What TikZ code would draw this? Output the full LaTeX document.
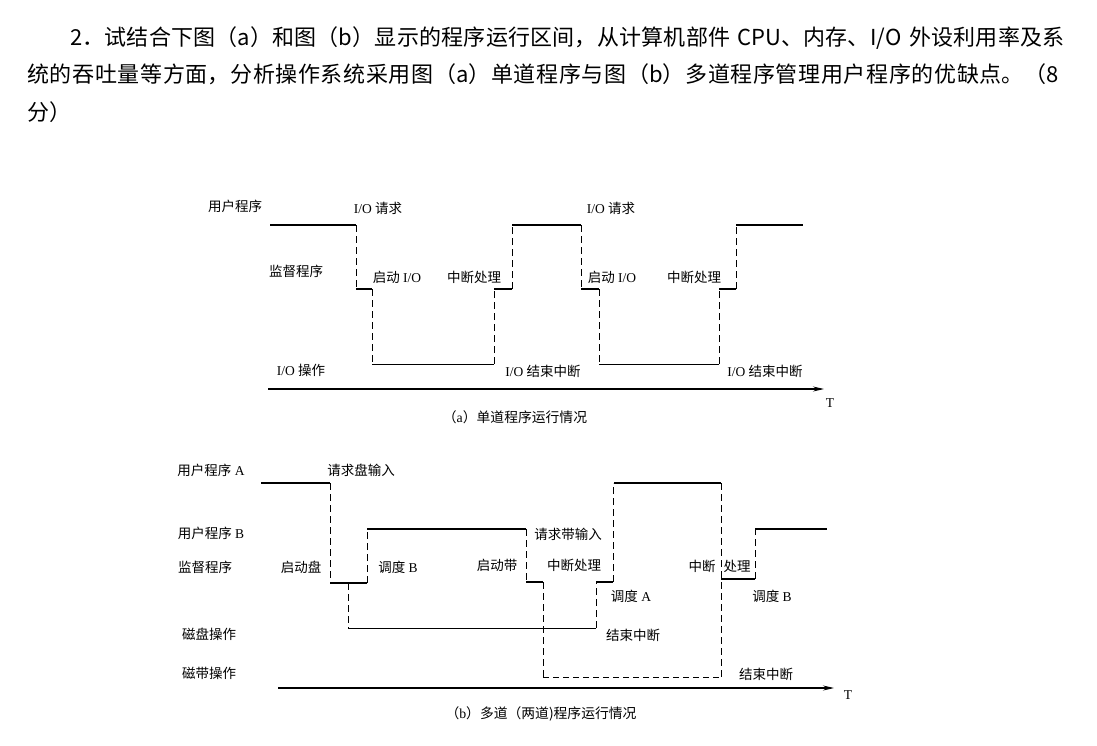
\documentclass[tikz,border=0pt]{standalone}
\usepackage{fontspec}
\setmainfont{Liberation Serif}
\newfontfamily\cjk{Noto Sans CJK SC}
\newcommand{\zh}[1]{{\cjk #1}}
\usetikzlibrary{arrows.meta}

\begin{document}
\begin{tikzpicture}[x=1pt,y=1pt,yscale=-1,xscale=1,
    lbl/.style={inner sep=0.75pt,font=\fontsize{13.5}{16}\selectfont},
    capt/.style={inner sep=0.75pt,font=\fontsize{13.8}{16}\selectfont},
    usr/.style={line width=1.8pt},
    usra/.style={line width=2.5pt},
    sup/.style={line width=1.3pt},
    io/.style={line width=0.9pt},
    dsh/.style={line width=1pt,dash pattern=on 7pt off 4pt},
    axis/.style={line width=1.1pt,-{Stealth[length=11pt,width=5pt]}}]
    \useasboundingbox (0,0) rectangle (1097,745);
    \path[fill=white] (0,0) rectangle (1097,745);

    % Question Text
    \draw (27,26) node [anchor=north west,inner sep=0pt,text width=1041pt,
        font=\cjk\fontsize{22}{37.5}\selectfont] (quest)
        {\noindent\XeTeXlinebreaklocale "zh"\XeTeXlinebreakskip=0pt plus 3pt%
        \hspace*{43pt}2．试结合下图（a）和图（b）显示的程序运行区间，从计算机部件 CPU、内存、I/O 外设利用率及系\linebreak
        统的吞吐量等方面，分析操作系统采用图（a）单道程序与图（b）多道程序管理用户程序的优缺点。（8\linebreak
        分）};

    %%% (a) single program
    %Straight Lines: user program
    \draw [usr] (270,225) -- (356,225) ;
    \draw [usr] (512,225) -- (581,225) ;
    \draw [usr] (736,225) -- (803,225) ;
    %Straight Lines: monitor
    \draw [sup] (356,289) -- (372,289) ;
    \draw [sup] (494,289) -- (512,289) ;
    \draw [sup] (581,289) -- (599,289) ;
    \draw [sup] (719,289) -- (736,289) ;
    %Straight Lines: I/O
    \draw [io] (372,364) -- (494,364) ;
    \draw [io] (599,364) -- (719,364) ;
    %Dashed Lines
    \draw [dsh] (356,225) -- (356,289) ;
    \draw [dsh] (372,289) -- (372,364) ;
    \draw [dsh] (494,364) -- (494,289) ;
    \draw [dsh] (512,289) -- (512,225) ;
    \draw [dsh] (581,225) -- (581,289) ;
    \draw [dsh] (599,289) -- (599,364) ;
    \draw [dsh] (719,364) -- (719,289) ;
    \draw [dsh] (736,289) -- (736,225) ;
    %Arrow: time axis
    \draw [axis] (268,389) -- (824,389) ;

    % Text Node
    \draw (235,206) node [lbl] (ua) {\zh{用户程序}};
    \draw (378,208) node [lbl] (reqa) {I/O \zh{请求}};
    \draw (611,208) node [lbl] (reqb) {I/O \zh{请求}};
    \draw (296,271) node [lbl] (supa) {\zh{监督程序}};
    \draw (397,277) node [lbl] (sta) {\zh{启动} I/O};
    \draw (474,277) node [lbl] (inta) {\zh{中断处理}};
    \draw (612,277) node [lbl] (stb) {\zh{启动} I/O};
    \draw (694,277) node [lbl] (intb) {\zh{中断处理}};
    \draw (301,370) node [lbl] (ioa) {I/O \zh{操作}};
    \draw (543,371) node [lbl] (enda) {I/O \zh{结束中断}};
    \draw (765,371) node [lbl] (endb) {I/O \zh{结束中断}};
    \draw (830,403) node [lbl] (ta) {T};
    \draw (515,417) node [capt] (capa) {\zh{（}a\zh{）单道程序运行情况}};

    %%% (b) two programs
    %Straight Lines: user programs
    \draw [usra] (261,483) -- (330,483) ;
    \draw [usra] (614,483) -- (721,483) ;
    \draw [usr] (367,529) -- (526,529) ;
    \draw [usr] (755,529) -- (827,529) ;
    %Straight Lines: monitor
    \draw [sup] (330,583) -- (367,583) ;
    \draw [sup] (526,582) -- (543,582) ;
    \draw [sup] (596,582) -- (613,582) ;
    \draw [sup] (721,579) -- (755,579) ;
    %Straight Lines: disk
    \draw [io] (348,628) -- (596,628) ;
    %Dashed Lines
    \draw [dsh] (330,483) -- (330,583) ;
    \draw [dsh] (367,583) -- (367,529) ;
    \draw [dsh] (348,583) -- (348,628) ;
    \draw [dsh] (526,529) -- (526,582) ;
    \draw [dsh] (543,582) -- (543,677) ;
    \draw [dsh] (596,628) -- (596,582) ;
    \draw [dsh] (613,582) -- (613,483) ;
    \draw [dsh] (721,483) -- (721,677) ;
    \draw [dsh] (755,579) -- (755,529) ;
    %Dashed Lines: tape
    \draw [io,dash pattern=on 6pt off 4pt] (543,677) -- (721,677) ;
    %Arrow: time axis
    \draw [axis] (278,688) -- (834,688) ;

    % Text Node
    \draw (211,470) node [lbl] (usa) {\zh{用户程序} A};
    \draw (361,470) node [lbl] (rqd) {\zh{请求盘输入}};
    \draw (211,533) node [lbl] (usb) {\zh{用户程序} B};
    \draw (205,567) node [lbl] (supb) {\zh{监督程序}};
    \draw (301,567) node [lbl] (std) {\zh{启动盘}};
    \draw (398,567) node [lbl] (dsb) {\zh{调度} B};
    \draw (497,565) node [lbl] (stt) {\zh{启动带}};
    \draw (568,534) node [lbl] (rqt) {\zh{请求带输入}};
    \draw (574,565) node [lbl] (intd) {\zh{中断处理}};
    \draw (631,596) node [lbl] (dsa) {\zh{调度} A};
    \draw (702,566) node [lbl] (intt) {\zh{中断}};
    \draw (737,566) node [lbl] (prt) {\zh{处理}};
    \draw (772,596) node [lbl] (dsb2) {\zh{调度} B};
    \draw (209,634) node [lbl] (dop) {\zh{磁盘操作}};
    \draw (633,635) node [lbl] (endd) {\zh{结束中断}};
    \draw (209,673) node [lbl] (top) {\zh{磁带操作}};
    \draw (766,674) node [lbl] (endt) {\zh{结束中断}};
    \draw (848,695) node [lbl] (tb) {T};
    \draw (541,714) node [capt] (capb) {\zh{（}b\zh{）多道（两道)程序运行情况}};

\end{tikzpicture}
\end{document}
